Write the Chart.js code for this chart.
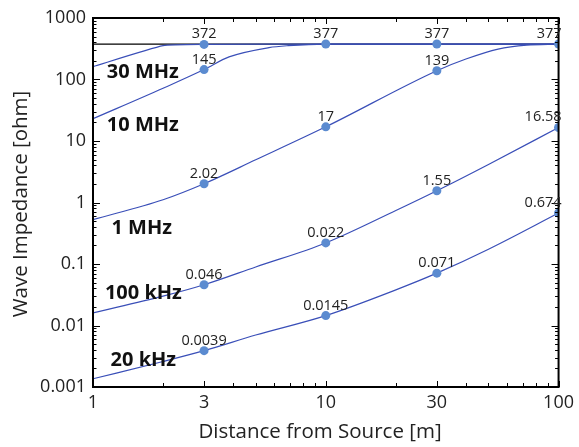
<!DOCTYPE html>
<html><head><meta charset="utf-8">
<script src="https://cdn.jsdelivr.net/npm/chart.js@4"></script>
<style>html,body{margin:0;padding:0;background:#fff}</style>
</head><body>
<canvas id="c" width="579" height="447"></canvas>
<script>
// ---------- data ----------
const xTicks = [1, 3, 10, 30, 100];
const xTickLabels = ['1', '3', '10', '30', '100'];
const yTicks = [0.001, 0.01, 0.1, 1, 10, 100, 1000];
const yTickLabels = ['0.001', '0.01', '0.1', '1', '10', '100', '1000'];

const curveNames = ['30 MHz', '10 MHz', '1 MHz', '100 kHz', '20 kHz'];

const dist30MHz = [1, 2, 3, 10, 30, 100];
const imp30MHz  = [162, 355, 372, 377, 377, 377];

const dist10MHz = [1, 2, 3, 3.84, 5.7, 6.9, 10, 30, 100];
const imp10MHz  = [23, 72, 145, 233, 330, 355, 377, 377, 377];

const dist1MHz = [1, 2, 3, 5, 10, 30, 40, 55, 73, 100];
const imp1MHz  = [0.526, 1.11, 2.02, 4.95, 17, 139, 215, 312, 362, 377];

const dist100kHz = [1, 2, 3, 5, 10, 20, 30, 50, 100];
const imp100kHz  = [0.016, 0.030, 0.046, 0.0895, 0.22, 0.74, 1.55, 4.15, 16.58];

const dist20kHz = [1, 2, 3, 5, 10, 20, 30, 50, 100];
const imp20kHz  = [0.00136, 0.0026, 0.0039, 0.0070, 0.0145, 0.038, 0.071, 0.174, 0.674];

const freeSpaceDist = [1, 100];
const freeSpaceImp  = [377, 377];

const markerDist   = [3, 10, 30, 100, 3, 3, 10, 30, 3, 10, 30, 100, 3, 10, 30, 100];
const markerImp    = [372, 377, 377, 377, 145, 2.02, 17, 139, 0.046, 0.22, 1.55, 16.58, 0.0039, 0.0145, 0.071, 0.674];
const markerLabels = ['372', '377', '377', '377', '145', '2.02', '17', '139', '0.046', '0.022', '1.55', '16.58', '0.0039', '0.0145', '0.071', '0.674'];

// curve name anchors (data coordinates)
const nameDist = [1.147, 1.147, 1.20, 1.125, 1.19];
const nameImp  = [130, 17.7, 0.376, 0.033, 0.0027];

// ---------- chart ----------
const FONT = '"Open Sans", "Noto Sans", sans-serif';
const LINE = '#3a4fb8';
const MARK = '#5b8bd0';
const pts = (xs, ys) => xs.map((x, i) => ({x: x, y: ys[i]}));
const curves = [[dist30MHz, imp30MHz], [dist10MHz, imp10MHz], [dist1MHz, imp1MHz], [dist100kHz, imp100kHz], [dist20kHz, imp20kHz]];

const datasets = curves.map((c, i) => ({
  label: curveNames[i], data: pts(c[0], c[1]), borderColor: LINE, borderWidth: 1.2,
  pointRadius: 0, cubicInterpolationMode: i === 0 ? 'default' : 'monotone',
  tension: i === 0 ? 0.15 : 0, fill: false, order: 2
}));
datasets.push({label: 'free space', data: pts(freeSpaceDist, freeSpaceImp), borderColor: '#000',
  borderWidth: 1.2, pointRadius: 0, tension: 0, order: 10});
datasets.push({label: 'markers', data: pts(markerDist, markerImp), showLine: false,
  pointRadius: 4.5, pointBackgroundColor: MARK, pointBorderWidth: 0, order: 0});

function fmt(list, labels, v) {
  for (let i = 0; i < list.length; i++) if (Math.abs(Math.log10(list[i]) - Math.log10(v)) < 1e-6) return labels[i];
  return '';
}

const deco = {
  id: 'deco',
  afterDraw(chart) {
    const ctx = chart.ctx, a = chart.chartArea, xs = chart.scales.x, ys = chart.scales.y;
    ctx.save();
    ctx.strokeStyle = '#000'; ctx.lineWidth = 1;
    for (let k = 0; k <= 2; k++) for (let m = 1; m <= 9; m++) {
      const v = m * Math.pow(10, k); if (v > 100) break;
      const px = Math.round(xs.getPixelForValue(v)) + 0.5;
      const len = (m === 1 || m === 3) ? 6 : 4;
      ctx.beginPath(); ctx.moveTo(px, a.bottom); ctx.lineTo(px, a.bottom - len);
      ctx.moveTo(px, a.top); ctx.lineTo(px, a.top + len); ctx.stroke();
    }
    for (let k = -3; k <= 3; k++) for (let m = 1; m <= 9; m++) {
      const v = m * Math.pow(10, k); if (v > 1000) break;
      const py = Math.round(ys.getPixelForValue(v)) + 0.5;
      const len = m === 1 ? 7 : 3.5;
      ctx.beginPath(); ctx.moveTo(a.left, py); ctx.lineTo(a.left + len, py);
      ctx.moveTo(a.right, py); ctx.lineTo(a.right - len, py); ctx.stroke();
    }
    ctx.lineWidth = 2;
    ctx.strokeRect(a.left, a.top, a.right - a.left, a.bottom - a.top);
    // point labels
    const meta = chart.getDatasetMeta(chart.data.datasets.length - 1);
    ctx.font = '14.5px ' + FONT; ctx.fillStyle = '#222'; ctx.textBaseline = 'alphabetic';
    meta.data.forEach((el, i) => {
      const t = markerLabels[i]; const w = ctx.measureText(t).width;
      let cx = el.x - w / 2;
      if (cx + w > a.right + 3) cx = a.right + 3 - w;
      ctx.fillText(t, cx, el.y - 6);
    });
    // curve names
    ctx.font = 'bold 20px ' + FONT; ctx.fillStyle = '#111'; ctx.textBaseline = 'middle';
    curveNames.forEach((n, i) => {
      ctx.fillText(n, xs.getPixelForValue(nameDist[i]), ys.getPixelForValue(nameImp[i]));
    });
    // axis titles
    ctx.font = '20.5px ' + FONT; ctx.fillStyle = '#222'; ctx.textAlign = 'center';
    ctx.fillText('Distance from Source [m]', 320, 432);
    ctx.translate(21, 204); ctx.rotate(-Math.PI / 2);
    ctx.fillText('Wave Impedance [ohm]', 0, 0);
    ctx.restore();
  }
};

new Chart(document.getElementById('c'), {
  type: 'line',
  data: {datasets: datasets},
  options: {
    responsive: false, animation: false, devicePixelRatio: 1,
    layout: {padding: {left: 0, right: 17, top: 18, bottom: 0}},
    plugins: {legend: {display: false}, tooltip: {enabled: false}},
    scales: {
      x: {
        type: 'logarithmic', min: 1, max: 100,
        afterBuildTicks: s => { s.ticks = xTicks.map(v => ({value: v})); },
        afterFit: s => { s.height = 60; },
        grid: {display: false, drawTicks: false}, border: {display: false},
        ticks: {autoSkip: false, maxRotation: 0, padding: 5, color: '#222',
          font: {size: 18, family: FONT}, callback: v => fmt(xTicks, xTickLabels, v)}
      },
      y: {
        type: 'logarithmic', min: 0.001, max: 1000,
        afterBuildTicks: s => { s.ticks = yTicks.map(v => ({value: v})); },
        afterFit: s => { s.width = 93; },
        grid: {display: false, drawTicks: false}, border: {display: false},
        ticks: {autoSkip: false, padding: 7, color: '#222',
          font: {size: 18, family: FONT}, callback: v => fmt(yTicks, yTickLabels, v)}
      }
    }
  },
  plugins: [deco]
});
</script>
</body></html>
